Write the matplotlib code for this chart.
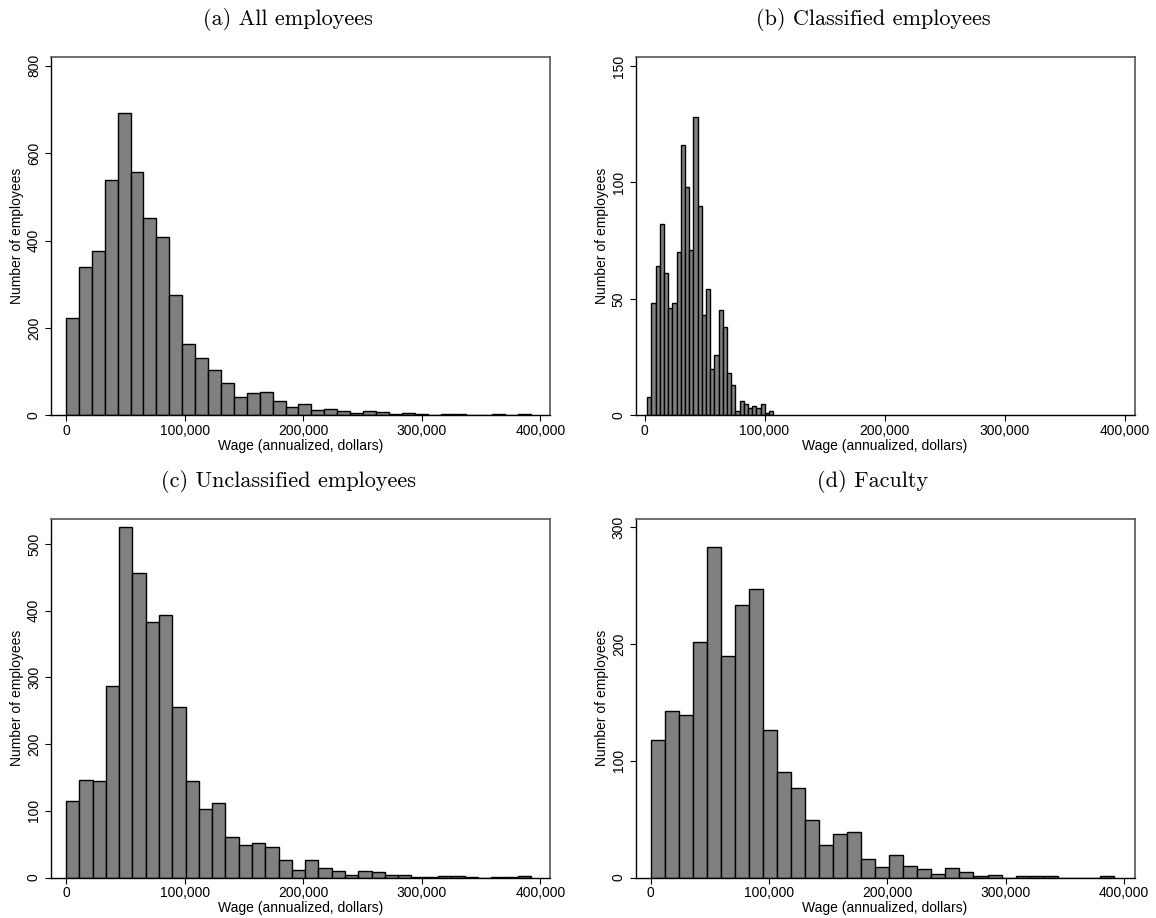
import matplotlib.pyplot as plt
import numpy as np
from matplotlib.ticker import StrMethodFormatter

# counts per bin
all_counts = [223, 340, 375, 539, 691, 558, 452, 408, 275, 163, 131, 104, 73, 42,
              50, 53, 33, 19, 26, 13, 14, 9, 5, 9, 8, 3, 5, 2, 1, 2, 2, 1, 0, 2, 0, 2]
all_range = (0, 392000)

classified_counts = [8, 48, 64, 82, 61, 46, 48, 70, 116, 98, 71, 128, 90, 43, 54,
                     20, 26, 45, 38, 18, 13, 2, 6, 5, 3, 4, 3, 5, 1, 2]
classified_range = (2200, 107200)

unclassified_counts = [115, 146, 145, 287, 525, 456, 383, 394, 256, 145, 103, 112, 60,
                       48, 52, 45, 26, 11, 26, 14, 10, 3, 10, 8, 3, 3, 1, 1, 2, 2, 1,
                       0, 1, 1, 2]
unclassified_range = (0, 392000)

faculty_counts = [118, 143, 139, 202, 283, 190, 233, 247, 126, 90, 77, 49, 28, 37, 39,
                  16, 9, 19, 10, 7, 3, 8, 5, 1, 2, 0, 1, 1, 1, 0, 0, 0, 1]
faculty_range = (0, 391300)

titles = ['(a) All employees', '(b) Classified employees',
          '(c) Unclassified employees', '(d) Faculty']
x_ticks = [0, 100000, 200000, 300000, 400000]
y_ticks = [[0, 200, 400, 600, 800], [0, 50, 100, 150],
           [0, 100, 200, 300, 400, 500], [0, 100, 200, 300]]
y_tops = [821, 154, 537.5, 307]
x_lims = [(-12900, 407800), (-7500, 408300), (-12900, 407800), (-12700, 408700)]

panels = [(all_counts, all_range), (classified_counts, classified_range),
          (unclassified_counts, unclassified_range), (faculty_counts, faculty_range)]

W, H = 1156, 918
fig = plt.figure(figsize=(W / 100, H / 100), dpi=100)
plt.rcParams['font.family'] = 'Liberation Sans'

# axes boxes in pixels: left, top (all same size)
boxes = [(50.7, 56.7), (635.5, 56.7), (50.7, 519), (635.5, 519)]
bw, bh = 499, 358.5

for i, ((counts, rng), (bx, by)) in enumerate(zip(panels, boxes)):
    ax = fig.add_axes([bx / W, 1 - (by + bh) / H, bw / W, bh / H])
    edges = np.linspace(rng[0], rng[1], len(counts) + 1)
    ax.bar(edges[:-1], counts, width=np.diff(edges), align='edge',
           color='#808080', edgecolor='black', linewidth=1.0)
    ax.set_xlim(*x_lims[i])
    ax.set_ylim(0, y_tops[i])
    ax.set_xticks(x_ticks)
    ax.set_yticks(y_ticks[i])
    ax.xaxis.set_major_formatter(StrMethodFormatter('{x:,.0f}'))
    ax.tick_params(direction='out', length=4, width=0.8, labelsize=10, pad=2)
    ax.tick_params(axis='y', pad=3)
    plt.setp(ax.get_yticklabels(), rotation=90, va='center')
    ax.set_xlabel('Wage (annualized, dollars)', fontsize=10, labelpad=1)
    ax.set_ylabel('Number of employees', fontsize=10, labelpad=2)
    for s in ['left', 'bottom']:
        ax.spines[s].set_color('black')
        ax.spines[s].set_linewidth(1.0)
    for s in ['top', 'right']:
        ax.spines[s].set_color('#555555')
        ax.spines[s].set_linewidth(1.2)
    fig.text((bx + bw / 2 - 12) / W, 1 - (by - 37) / H, titles[i],
             family='cmr10', fontsize=16, ha='center', va='center')

fig.savefig('out.png', dpi=100)
